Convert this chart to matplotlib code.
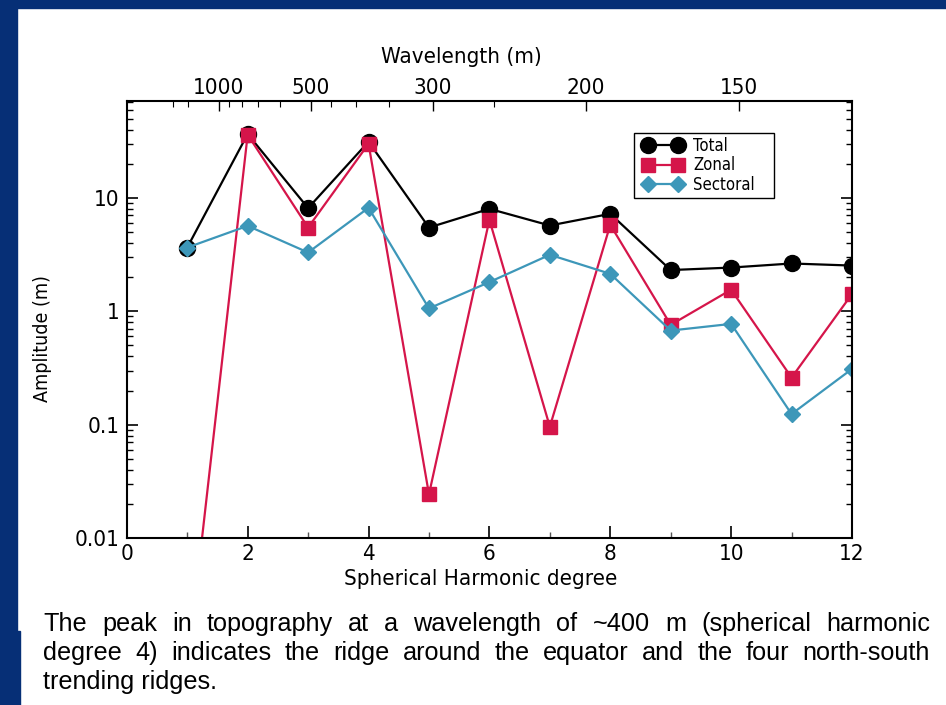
import numpy as np
import matplotlib
matplotlib.use("Agg")
import matplotlib.pyplot as plt
from matplotlib.patches import Rectangle
from matplotlib.lines import Line2D
from matplotlib.legend_handler import HandlerLine2D
from matplotlib.ticker import FixedLocator, NullFormatter, LogLocator

plt.rcParams['font.family'] = ['DejaVu Sans']
plt.rcParams['font.stretch'] = 'condensed'

# ---- data ----
degree = [1, 2, 3, 4, 5, 6, 7, 8, 9, 10, 11, 12]
total = [3.65, 36.6, 8.13, 31.3, 5.48, 8.01, 5.71, 7.24, 2.31, 2.43, 2.64, 2.53]
zonal = [7e-4, 36.1, 5.48, 30.0, 0.0243, 6.41, 0.0959, 5.79, 0.759, 1.55, 0.260, 1.42]
sectoral = [3.65, 5.67, 3.30, 8.18, 1.06, 1.81, 3.15, 2.14, 0.676, 0.774, 0.124, 0.310]
series_names = ["Total", "Zonal", "Sectoral"]

wl_major = [1000, 500, 300, 200, 150]
wl_minor = [2000, 1500, 900, 800, 700, 600, 450, 400, 350, 250]
wl_const = 1520.0  # wavelength = const / degree

yticks = [0.01, 0.1, 1, 10]
ytick_labels = ["0.01", "0.1", "1", "10"]
xticks = [0, 2, 4, 6, 8, 10, 12]

caption_lines = [
    "The peak in topography at a wavelength of ~400 m (spherical harmonic",
    "degree 4) indicates the ridge around the equator and the four north-south",
    "trending ridges.",
]

W, H = 946, 705
fig = plt.figure(figsize=(W / 100, H / 100), dpi=100)
fig.patch.set_facecolor("white")

navy = "#062f76"
fig.patches.append(Rectangle((0, 1 - 8 / H), 1, 8 / H, transform=fig.transFigure, color=navy, zorder=0))
fig.patches.append(Rectangle((0, 1 - 631 / H), 17 / W, 631 / H, transform=fig.transFigure, color=navy, zorder=0))
fig.patches.append(Rectangle((0, 0), 20 / W, 1 - 631 / H, transform=fig.transFigure, color=navy, zorder=0))

L, R, T, B = 126.8, 852.0, 101.0, 538.0
ax = fig.add_axes([L / W, 1 - B / H, (R - L) / W, (B - T) / H])

lw = 1.6
ax.plot(degree, total, color="black", lw=lw, marker="o", ms=11.5, mfc="black", mec="black",
        label=series_names[0], zorder=3)
ax.plot(degree, zonal, color="#d5154a", lw=lw, marker="s", ms=9.5, mfc="#d5154a", mec="#d5154a",
        label=series_names[1], zorder=4)
ax.plot(degree, sectoral, color="#3d97b9", lw=lw, marker="D", ms=8.5, mfc="#3d97b9", mec="#3d97b9",
        label=series_names[2], zorder=5)

ax.set_yscale("log")
ax.set_ylim(0.01, 71.6)
ax.set_xlim(0, 12)
for sp in ax.spines.values():
    sp.set_linewidth(1.5)
    sp.set_zorder(10)

ax.set_xticks(xticks)
ax.set_xticklabels([str(x) for x in xticks])
ax.xaxis.set_minor_locator(FixedLocator([1, 3, 5, 7, 9, 11]))
ax.set_yticks(yticks)
ax.set_yticklabels(ytick_labels)
ax.yaxis.set_minor_locator(LogLocator(base=10, subs=np.arange(2, 10), numticks=20))
ax.yaxis.set_minor_formatter(NullFormatter())

ax.tick_params(which="both", direction="in", labelsize=16, right=True, top=False)
ax.tick_params(axis="x", which="major", length=9, width=1.2, pad=4)
ax.tick_params(axis="x", which="minor", length=4.5, width=1.0, color="#555555")
ax.tick_params(axis="y", which="major", length=8, width=1.2, pad=5)
ax.tick_params(axis="y", which="minor", length=4, width=1.0)

ax2 = ax.twiny()
ax2.set_xlim(0, 12)
ax2.set_xticks([wl_const / w for w in wl_major])
ax2.set_xticklabels([str(w) for w in wl_major])
ax2.xaxis.set_minor_locator(FixedLocator([wl_const / w for w in wl_minor]))
ax2.xaxis.set_minor_formatter(NullFormatter())
ax2.tick_params(which="both", direction="in", labelsize=16)
ax2.tick_params(which="major", length=7, width=1.0, pad=2)
ax2.tick_params(which="minor", length=4, width=0.8)
for sp in ax2.spines.values():
    sp.set_visible(False)

fig.text(481 / W, 1 - 579 / H, "Spherical Harmonic degree", ha="center", va="center", fontsize=16)
fig.text(461 / W, 1 - 57 / H, "Wavelength (m)", ha="center", va="center", fontsize=16)
fig.text(42 / W, 1 - 339 / H, "Amplitude (m)", ha="center", va="center", fontsize=14, rotation=90)

# legend (entries via matplotlib, frame drawn separately to match the reference box)
leg_fs = 12
leg = ax.legend(loc="upper left", bbox_to_anchor=((634.3 - L) / (R - L), 1 - (133.5 - T) / (B - T)),
                borderaxespad=0, fontsize=leg_fs, handlelength=3.05, handletextpad=0.3,
                borderpad=0.2, labelspacing=0.1, frameon=False,
                handler_map={Line2D: HandlerLine2D(numpoints=2, marker_pad=0.6)})
leg.set_zorder(20)
ax.add_patch(Rectangle((634.3 / W, 1 - 197.7 / H), (773.7 - 634.3) / W, (197.7 - 132.7) / H,
                       transform=fig.transFigure, facecolor="white", edgecolor="black",
                       lw=1.0, zorder=15, clip_on=False))

cap_font = dict(family=["Liberation Sans", "DejaVu Sans"], fontsize=18.2, stretch="normal")
x0, x1 = 43.3 / W, 930.0 / W
baselines = [630.7, 660.0, 689.0]
fig.canvas.draw()
renderer = fig.canvas.get_renderer()
for i, line in enumerate(caption_lines):
    yb = 1 - baselines[i] / H
    if i == len(caption_lines) - 1:
        fig.text(x0, yb, line, ha="left", va="baseline", **cap_font)
        continue
    words = line.split(" ")
    arts = [fig.text(0, yb, w_, ha="left", va="baseline", **cap_font) for w_ in words]
    widths = [a.get_window_extent(renderer).width / W for a in arts]
    gap = (x1 - x0 - sum(widths)) / (len(words) - 1)
    xx = x0
    for a, wdt in zip(arts, widths):
        a.set_x(xx)
        xx += wdt + gap

fig.savefig("out.png", dpi=100, facecolor=fig.get_facecolor())
